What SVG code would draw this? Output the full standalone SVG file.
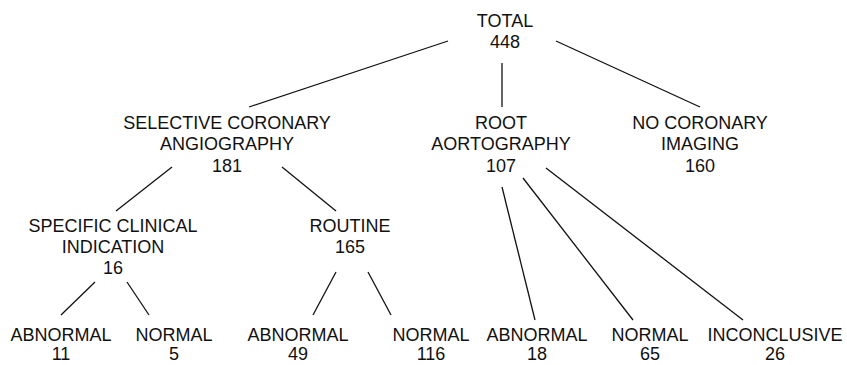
<svg xmlns="http://www.w3.org/2000/svg" width="847" height="365" viewBox="0 0 847 365">
<style>
text{font-family:"Liberation Sans",Arial,sans-serif;font-size:18px;fill:#111;text-anchor:middle}
line{stroke:#111;stroke-width:1.3}
</style>
<rect width="847" height="365" fill="#fff"/>
<g id="connectors">
<line x1="448" y1="41" x2="249" y2="107"/>
<line x1="502" y1="63" x2="502" y2="107"/>
<line x1="556" y1="41" x2="700" y2="107"/>
<line x1="172" y1="167" x2="116" y2="211"/>
<line x1="282" y1="167" x2="336" y2="211"/>
<line x1="95" y1="282" x2="61" y2="315"/>
<line x1="127" y1="282" x2="149" y2="315"/>
<line x1="336" y1="272" x2="313" y2="315"/>
<line x1="368" y1="272" x2="391" y2="315"/>
<line x1="502" y1="187" x2="535" y2="320"/>
<line x1="523" y1="178" x2="633" y2="320"/>
<line x1="546" y1="168" x2="743" y2="320"/>
</g>
<g id="total"><text x="505" y="27">TOTAL</text><text x="505" y="48">448</text></g>
<g id="sca"><text x="227" y="129">SELECTIVE CORONARY</text><text x="227" y="150">ANGIOGRAPHY</text><text x="227" y="172">181</text></g>
<g id="root"><text x="501" y="129">ROOT</text><text x="501" y="150">AORTOGRAPHY</text><text x="501" y="172">107</text></g>
<g id="none"><text x="700" y="129">NO CORONARY</text><text x="700" y="150">IMAGING</text><text x="700" y="172">160</text></g>
<g id="specific"><text x="113" y="232">SPECIFIC CLINICAL</text><text x="113" y="253">INDICATION</text><text x="113" y="274">16</text></g>
<g id="routine"><text x="350" y="232">ROUTINE</text><text x="350" y="253">165</text></g>
<g id="abn11"><text x="61" y="341">ABNORMAL</text><text x="61" y="360">11</text></g>
<g id="norm5"><text x="174" y="341">NORMAL</text><text x="174" y="360">5</text></g>
<g id="abn49"><text x="298" y="341">ABNORMAL</text><text x="298" y="360">49</text></g>
<g id="norm116"><text x="431" y="341">NORMAL</text><text x="431" y="360">116</text></g>
<g id="abn18"><text x="537" y="341">ABNORMAL</text><text x="537" y="360">18</text></g>
<g id="norm65"><text x="650" y="341">NORMAL</text><text x="650" y="360">65</text></g>
<g id="inconc"><text x="775" y="341">INCONCLUSIVE</text><text x="775" y="360">26</text></g>
</svg>
